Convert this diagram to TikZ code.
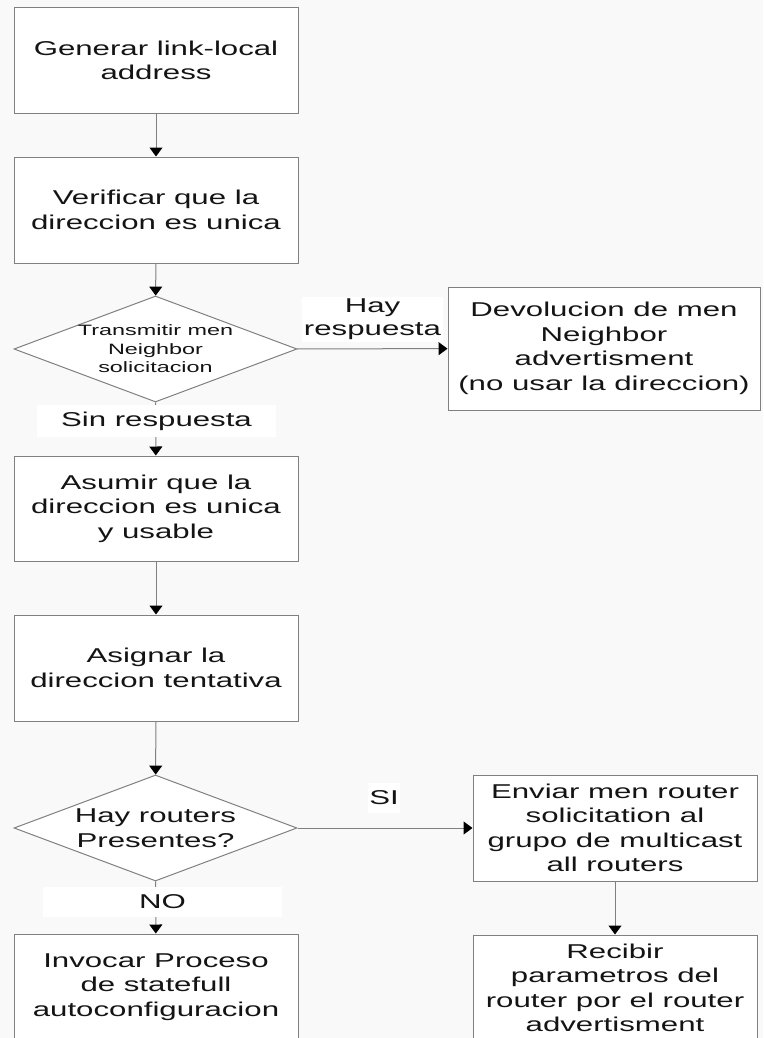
\documentclass[tikz,border=0pt]{standalone}
\usepackage{fontspec}
\setmainfont{Liberation Sans}[FakeStretch=1.56]
\usetikzlibrary{arrows.meta}
\usetikzlibrary{shapes.geometric}

\begin{document}
\begin{tikzpicture}[x=1pt,y=-1pt,
paso/.style={draw=gray, line width=1pt, fill=white, rectangle, minimum width=284pt, minimum height=106pt, inner sep=0pt, align=center, text=black!92, font=\fontsize{20}{24.5}\selectfont},
decision/.style={draw=gray, line width=1pt, fill=white, diamond, minimum width=283pt, minimum height=106pt, inner sep=0pt},
dectexto/.style={align=center, inner sep=0pt, text=black!92},
etiq/.style={fill=white, inner sep=0pt, align=center, text=black!92, font=\fontsize{20}{23}\selectfont},
flecha/.style={draw=gray, line width=1pt, -{Triangle[length=9pt,width=13pt,color=black]}}]
\clip (0,0) rectangle (763,1038);
\fill[gray!5] (0,0) rectangle (763,1038);

%left column
\node[paso] (gen) at (156,60.5) {Generar link-local\\address};
\node[paso] (verif) at (156,210) {Verificar que la\\direccion es unica};
\node[decision] (trans) at (155.5,349) {};
\node[dectexto, font=\fontsize{15}{18.5}\selectfont] (transtxt) at (trans) {Transmitir men\\Neighbor\\solicitacion};
\node[paso, minimum height=105pt] (asumir) at (156,508.5) {Asumir que la\\direccion es unica\\y usable};
\node[paso] (asignar) at (156,668) {Asignar la\\direccion tentativa};
\node[decision] (routers) at (155.5,828) {};
\node[dectexto, font=\fontsize{20}{24.5}\selectfont] (routerstxt) at (routers) {Hay routers\\Presentes?};
\node[paso] (invocar) at (156,987) {Invocar Proceso\\de statefull\\autoconfiguracion};

%right column
\node[paso, minimum width=312pt, minimum height=123pt] (devol) at (604,348.5) {Devolucion de men\\Neighbor\\advertisment\\(no usar la direccion)};
\node[paso] (enviar) at (615,828) {Enviar men router\\solicitation al\\grupo de multicast\\all routers};
\node[paso] (recibir) at (615,988) {Recibir\\parametros del\\router por el router\\advertisment};

%arrows
\draw[flecha] (gen) -- (verif);
\draw[flecha] (verif) -- (trans);
\draw[flecha] (trans) -- (devol);
\draw[flecha] (trans) -- (asumir);
\draw[flecha] (asumir) -- (asignar);
\draw[flecha] (asignar) -- (routers);
\draw[flecha] (routers) -- (enviar);
\draw[flecha] (routers) -- (invocar);
\draw[flecha] (enviar) -- (recibir);

%labels
\node[etiq, minimum width=141pt, minimum height=45pt] (hay) at (372.5,319.5) {Hay\\respuesta};
\node[etiq, minimum width=239pt, minimum height=32pt] (sin) at (156.5,421) {Sin respuesta};
\node[etiq, minimum width=32pt, minimum height=30pt] (si) at (384,798) {SI};
\node[etiq, minimum width=239pt, minimum height=30pt] (no) at (162.5,902) {NO};
\end{tikzpicture}
\end{document}
